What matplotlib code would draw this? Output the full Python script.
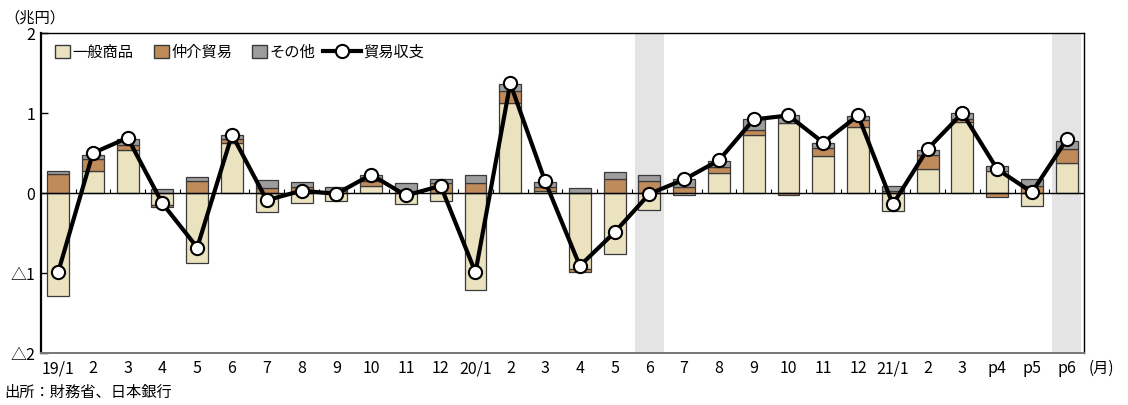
import matplotlib
matplotlib.use("Agg")
import matplotlib.pyplot as plt
import numpy as np
from matplotlib.patches import Patch
from matplotlib.lines import Line2D

plt.rcParams["font.family"] = ["Noto Sans CJK JP", "DejaVu Sans"]

months = ["19/1", "2", "3", "4", "5", "6", "7", "8", "9", "10", "11", "12",
          "20/1", "2", "3", "4", "5", "6", "7", "8", "9", "10", "11", "12",
          "21/1", "2", "3", "p4", "p5", "p6"]
general = [-1.28, 0.28, 0.54, -0.15, -0.87, 0.62, -0.24, -0.12, -0.10, 0.09,
           -0.14, -0.10, -1.21, 1.13, 0.03, -0.95, -0.76, -0.21, -0.02, 0.25,
           0.72, 0.88, 0.46, 0.83, -0.22, 0.30, 0.89, 0.27, -0.16, 0.37]
intermediary = [0.24, 0.15, 0.06, -0.02, 0.15, 0.06, 0.06, 0.08, 0.02, 0.06,
                0.03, 0.12, 0.12, 0.14, 0.05, -0.03, 0.17, 0.15, 0.07, 0.08,
                0.07, -0.02, 0.10, 0.08, 0.02, 0.17, 0.04, -0.05, 0.09, 0.18]
other = [0.04, 0.05, 0.08, 0.05, 0.05, 0.05, 0.10, 0.06, 0.06, 0.07,
         0.09, 0.06, 0.10, 0.09, 0.06, 0.06, 0.09, 0.07, 0.10, 0.07,
         0.13, 0.09, 0.07, 0.05, 0.07, 0.07, 0.07, 0.07, 0.08, 0.10]
balance = [-0.99, 0.50, 0.69, -0.13, -0.68, 0.73, -0.09, 0.03, -0.01, 0.23,
           -0.03, 0.09, -0.99, 1.37, 0.15, -0.91, -0.49, -0.01, 0.17, 0.41,
           0.92, 0.97, 0.63, 0.97, -0.14, 0.55, 1.00, 0.30, 0.01, 0.67]
# shaded months: 20/6 and 21/6
shaded_idx = [17, 29]

series = [("一般商品", general, "#ebe2bf"),
          ("仲介貿易", intermediary, "#c08b5b"),
          ("その他", other, "#9d9d9d")]

fig = plt.figure(figsize=(11.28, 4.05), dpi=100)
ax = fig.add_axes([0.0361, 0.128, 0.925, 0.7905])

x = np.arange(len(months))
for i in shaded_idx:
    ax.axvspan(i - 0.42, i + 0.42, color="#e4e4e4", lw=0, zorder=0)

# positive and negative parts are stacked separately
pos_base = np.zeros(len(months))
neg_base = np.zeros(len(months))
for label, vals, color in series:
    vals = np.asarray(vals)
    bottom = np.where(vals >= 0, pos_base, neg_base)
    ax.bar(x, vals, bottom=bottom, width=0.63, color=color,
           edgecolor="#3a3a3a", linewidth=0.9, zorder=2)
    pos_base = pos_base + np.clip(vals, 0, None)
    neg_base = neg_base + np.clip(vals, None, 0)

ax.axhline(0, color="black", lw=1.0, zorder=3)
ax.vlines(x[:-1] + 0.5, 0, 0.05, color="black", lw=0.8, zorder=3)

ax.plot(x, balance, color="black", lw=3.0, marker="o", markersize=9.5,
        markerfacecolor="white", markeredgecolor="black", markeredgewidth=1.5,
        zorder=4)

ax.set_xlim(-0.5, len(months) - 0.5)
ax.set_ylim(-2, 2)
ax.set_yticks([2, 1, 0, -1, -2])
ax.set_yticklabels(["2", "1", "0", "△1", "△2"])
ax.tick_params(axis="y", direction="in", length=5, width=1, labelsize=11.5, pad=4)
ax.set_xticks(x)
ax.set_xticklabels(months)
ax.tick_params(axis="x", length=0, labelsize=11.5, pad=5)

for side in ["left", "top", "right"]:
    ax.spines[side].set_color("black")
ax.spines["left"].set_linewidth(1.6)
ax.spines["top"].set_linewidth(1.0)
ax.spines["right"].set_linewidth(1.0)
ax.spines["bottom"].set_color("#777777")
ax.spines["bottom"].set_linewidth(1.4)

patches = [Patch(facecolor=c, edgecolor="#3a3a3a", label=l) for l, _, c in series]
leg1 = ax.legend(handles=patches, loc="upper left", bbox_to_anchor=(0.005, 0.995),
                 ncol=3, frameon=False, fontsize=11, handlelength=1.0,
                 handleheight=1.0, handletextpad=0.15, columnspacing=1.3,
                 borderaxespad=0.2)
ax.add_artist(leg1)
line_handle = Line2D([], [], color="black", lw=3.0, marker="o", markersize=9.5,
                     markerfacecolor="white", markeredgecolor="black",
                     markeredgewidth=1.5, label="貿易収支")
ax.legend(handles=[line_handle], loc="upper left", bbox_to_anchor=(0.262, 0.995),
          frameon=False, fontsize=11, handlelength=2.5, handletextpad=0.1,
          borderaxespad=0.2)

fig.text(0.004, 0.955, "（兆円）", fontsize=11, ha="left", va="center")
fig.text(0.9655, 0.091, "(月)", fontsize=11, ha="left", va="center")
fig.text(0.004, 0.03, "出所：財務省、日本銀行", fontsize=11, ha="left", va="center")

fig.savefig("out.png", dpi=100)
